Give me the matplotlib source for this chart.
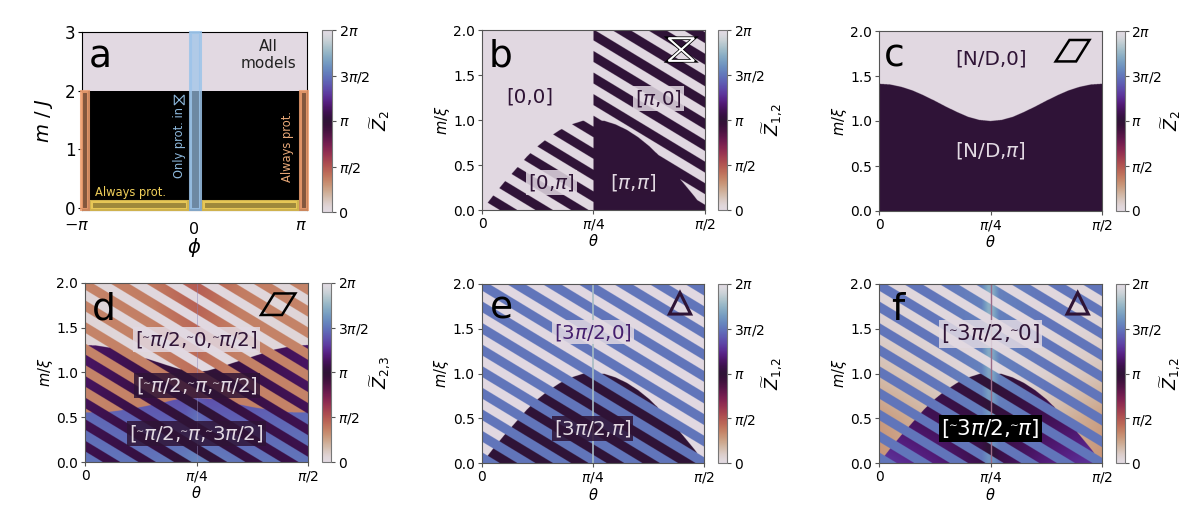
import numpy as np
import matplotlib
matplotlib.use('Agg')
import matplotlib.pyplot as plt
from matplotlib.patches import Rectangle, Polygon
from matplotlib.cm import ScalarMappable
from matplotlib.colors import Normalize

W, H = 1196, 515

# phase boundaries (theta as fraction of pi/2)
curve_x = [0, .05, .1, .15, .2, .25, .3, .35, .4, .45, .5, .55, .6, .65, .7, .75, .8, .85, .9, .95, 1]
dome_m = [0, .16, .31, .45, .59, .71, .81, .89, .95, .99, 1, .99, .95, .89, .81, .71, .59, .45, .31, .16, 0]
c_curve = [1.414, 1.406, 1.38, 1.34, 1.286, 1.225, 1.16, 1.10, 1.046, 1.012, 1.0,
           1.012, 1.046, 1.10, 1.16, 1.225, 1.286, 1.34, 1.38, 1.406, 1.414]
d_upper = [1.30, 1.295, 1.275, 1.25, 1.21, 1.17, 1.13, 1.09, 1.05, 1.015, 1.0,
           1.015, 1.05, 1.09, 1.13, 1.17, 1.21, 1.25, 1.275, 1.295, 1.30]
d_lower = [.55, .55, .555, .57, .59, .61, .635, .66, .69, .705, .71,
           .705, .69, .66, .635, .61, .59, .57, .555, .55, .55]

# stripes: lower intercept of each band at theta=0, in m/xi
stripe_slope = 1.5
stripe_width = .118
stripe_bands = [-.602, -.362, -.122, .118, .358, .598, .838, 1.078, 1.318, 1.558, 1.798, 2.038,
                2.278, 2.518, 2.758, 2.998, 3.238, 3.478]

# field values in units of pi on a coarse grid
rows_m = [0, .5, 1, 1.5, 2]
cols_d = [0, .3, .45, .5, .55, .7, 1]
d_orange = [[.35, .36, .38, .38, .38, .36, .35],
            [.35, .36, .38, .38, .38, .36, .35],
            [.35, .36, .40, .42, .40, .36, .35],
            [.35, .36, .42, .44, .42, .36, .35],
            [.35, .38, .46, .48, .46, .38, .35]]
d_blue = [[1.50, 1.50, 1.53, 1.56, 1.53, 1.50, 1.50],
          [1.46, 1.42, 1.42, 1.48, 1.42, 1.42, 1.46],
          [1.40, 1.34, 1.30, 1.32, 1.30, 1.34, 1.40],
          [1.40, 1.34, 1.30, 1.32, 1.30, 1.34, 1.40],
          [1.40, 1.34, 1.30, 1.32, 1.30, 1.34, 1.40]]
d_light = [[.05, .03, .02, .02, .02, .03, .05],
           [.05, .03, .02, .02, .02, .03, .05],
           [.05, .03, .01, .01, .01, .03, .05],
           [.06, .03, .01, .01, .01, .03, .06],
           [.05, .03, .02, .02, .02, .03, .05]]
d_dark = [[1.08, 1.04, 1.0, 1.0, 1.0, 1.04, 1.08],
          [1.10, 1.05, 1.0, 1.0, 1.0, 1.05, 1.10],
          [1.14, 1.06, 1.0, 1.0, 1.0, 1.06, 1.14],
          [1.14, 1.08, 1.0, 1.0, 1.0, 1.08, 1.14],
          [1.14, 1.08, 1.0, 1.0, 1.0, 1.08, 1.14]]
cols_f = [0, .25, .46, .49, .51, .54, .75, 1]
f_blue = [[1.50, 1.50, 1.50, 1.60, 1.60, 1.50, 1.50, 1.50],
          [1.50, 1.50, 1.52, 1.62, 1.62, 1.52, 1.50, 1.50],
          [1.50, 1.50, 1.54, 1.68, 1.68, 1.54, 1.50, 1.50],
          [1.50, 1.50, 1.54, 1.72, 1.72, 1.54, 1.50, 1.50],
          [1.50, 1.50, 1.54, 1.72, 1.72, 1.54, 1.50, 1.50]]
f_light = [[.30, .22, .12, .02, .02, .12, .22, .30],
           [.28, .18, .08, .02, .02, .08, .16, .26],
           [.16, .09, .03, .01, .01, .03, .08, .14],
           [.08, .04, .02, .01, .01, .02, .04, .06],
           [.04, .02, .01, .01, .01, .01, .02, .03]]
f_dark = [[1.30, 1.20, 1.08, 1.0, 1.0, 1.08, 1.20, 1.30],
          [1.16, 1.10, 1.04, 1.0, 1.0, 1.04, 1.10, 1.16],
          [1.10, 1.05, 1.0, 1.0, 1.0, 1.0, 1.05, 1.10],
          [1.10, 1.05, 1.0, 1.0, 1.0, 1.0, 1.05, 1.10],
          [1.10, 1.05, 1.0, 1.0, 1.0, 1.0, 1.05, 1.10]]

cbar_ticks = [0, np.pi/2, np.pi, 3*np.pi/2, 2*np.pi]
cbar_ticklabels = ['0', r'$\pi/2$', r'$\pi$', r'$3\pi/2$', r'$2\pi$']
theta_ticks = [0, np.pi/4, np.pi/2]
theta_ticklabels = ['0', r'$\pi/4$', r'$\pi/2$']

cmap = plt.get_cmap('twilight_r')
norm = Normalize(0, 2*np.pi)
GREY = '#555555'
DARK = '#2f1436'
LIGHT = '#e2d9e2'
PURPLE = '#451f6e'
TILDE = r'$\!^{_{\sim}}\!$'

fig = plt.figure(figsize=(W/100, H/100), dpi=100)


def px_axes(x0, x1, y0, y1):
    return fig.add_axes([x0/W, 1-y1/H, (x1-x0)/W, (y1-y0)/H])


def colorbar(box, label, label_x, size=10):
    cax = px_axes(*box)
    cb = fig.colorbar(ScalarMappable(norm=norm, cmap=cmap), cax=cax)
    cb.set_ticks(cbar_ticks)
    cb.set_ticklabels(cbar_ticklabels)
    cax.tick_params(labelsize=size, length=3, width=.8, color=GREY, pad=2)
    cb.outline.set_edgecolor('#777777')
    cax.text(label_x, .5, label, rotation=90, ha='center', va='center', fontsize=12.5, transform=cax.transAxes)


frac = np.linspace(0, 1, 1100)
mass = np.linspace(0, 2, 900)
F, M = np.meshgrid(frac, mass)


def field(cols, table):
    along = np.array([np.interp(frac, cols, row) for row in table])
    out = np.array([np.interp(mass, rows_m, along[:, i]) for i in range(len(frac))]).T
    return out*np.pi


def band_mask():
    line = M + stripe_slope*F
    mask = np.zeros_like(M, dtype=bool)
    for c in stripe_bands:
        mask |= (line >= c) & (line < c+stripe_width)
    return mask


def theta_axes(ax, letter, lx, ly):
    ax.set_xlim(0, np.pi/2)
    ax.set_ylim(0, 2)
    ax.set_xticks(theta_ticks)
    ax.set_xticklabels(theta_ticklabels)
    ax.set_yticks([0, .5, 1, 1.5, 2])
    ax.set_yticklabels(['0.0', '0.5', '1.0', '1.5', '2.0'])
    ax.tick_params(labelsize=10, length=3, width=.8, color=GREY, pad=2)
    ax.set_xlabel(r'$\theta$', fontsize=10.5, labelpad=1)
    ax.set_ylabel(r'$m/\xi$', fontsize=10.5, labelpad=1)
    for s in ax.spines.values():
        s.set_edgecolor(GREY)
    ax.text(lx, ly, letter, fontsize=27, color='k', transform=ax.transAxes, ha='left', va='baseline')


def show(ax, values):
    ax.imshow(values, origin='lower', extent=(0, np.pi/2, 0, 2), aspect='auto', cmap=cmap, norm=norm,
              interpolation='antialiased', interpolation_stage='rgba')


def label(ax, x, y, s, color, bg, alpha=.85, size=14.3):
    ax.text(x, y, s, color=color, fontsize=size, ha='center', va='center', transform=ax.transAxes,
            bbox=dict(facecolor=bg, edgecolor='none', alpha=alpha, pad=1.5))


# a
ax = px_axes(82.3, 306.7, 31.7, 210)
ax.set_xlim(-np.pi, np.pi)
ax.set_ylim(-.03, 3)
ax.set_facecolor('k')
ax.axhspan(2, 3, color=cmap(0.0), lw=0)
ax.set_xticks([])
ax.set_yticks([0, 1, 2, 3])
ax.tick_params(labelsize=12, length=3, width=.8, pad=2)
ax.set_ylabel('$m$ / $J$', fontsize=14, labelpad=7)
ax.text(.03, .80, 'a', fontsize=27, transform=ax.transAxes)
ax.text(.828, .87, 'All\nmodels', fontsize=11, ha='center', va='center', color='#222222',
        transform=ax.transAxes, linespacing=1.15)
ax.text(.432, .376, 'Only prot. in', fontsize=8.3, color='#8db8dc', rotation=90, ha='center', va='center',
        transform=ax.transAxes)
# the glyph is in none of the installed fonts
gx, gy, gdx, gdy = .432, .617, .022, .028
ax.add_patch(Polygon([(gx-gdx, gy+gdy), (gx-gdx, gy-gdy), (gx+gdx, gy+gdy), (gx+gdx, gy-gdy)], closed=True,
                     fill=False, ec='#8db8dc', lw=.8, transform=ax.transAxes))
ax.text(.9135, .355, 'Always prot.', fontsize=8.3, color='#e8a878', rotation=90, ha='center', va='center',
        transform=ax.transAxes)
ax.text(.217, .097, 'Always prot.', fontsize=8.3, color='#f0cf5a', ha='center', va='center', transform=ax.transAxes)
for x0, x1, y0, y1, col, fa in [(-3.17, -2.99, -.01, 1.99, '#f0a070', .55), (2.96, 3.16, -.01, 1.99, '#f0a070', .55),
                                (-.115, .145, -.01, 2.99, '#9cc4ea', .7),
                                (-2.89, -.22, -.01, .13, '#f5d35c', .65), (.23, 2.86, -.01, .13, '#f5d35c', .65)]:
    ax.add_patch(Rectangle((x0, y0), x1-x0, y1-y0, facecolor=col, edgecolor='none', alpha=fa, clip_on=False, zorder=3))
    ax.add_patch(Rectangle((x0, y0), x1-x0, y1-y0, facecolor='none', edgecolor=col, lw=2.2, alpha=.85, clip_on=False, zorder=3))
ax.text(-3.29, -.29, r'$-\pi$', fontsize=11.5, ha='center', va='center', clip_on=False)
ax.text(-.01, -.36, '0', fontsize=11.5, ha='center', va='center', clip_on=False)
ax.text(2.98, -.29, r'$\pi$', fontsize=11.5, ha='center', va='center', clip_on=False)
ax.text(-.01, -.67, r'$\phi$', fontsize=14, ha='center', va='center', clip_on=False)
colorbar((322, 332, 30, 212), r'$\widetilde{Z}_{2}$', 5.8, 10.3)

# b
ax = px_axes(482.3, 704.5, 30.3, 210)
theta_axes(ax, 'b', .03, .80)
dome = np.interp(F, curve_x, dome_m)
below = M < dome
stripes = band_mask()
s1 = np.where(F < .5, 0.0, np.pi)
s2 = np.where(below, np.pi, 0.0)
show(ax, np.where(stripes, s2, s1))
label(ax, .215, .63, r'[0,0]', DARK, LIGHT, 0)
label(ax, .312, .154, r'[0,$\pi$]', DARK, LIGHT)
label(ax, .677, .154, r'[$\pi$,$\pi$]', LIGHT, DARK)
label(ax, .793, .622, r'[$\pi$,0]', DARK, LIGHT)
glass = [(.838, .956), (.953, .956), (.838, .83), (.953, .83)]
ax.add_patch(Polygon(glass, closed=True, fill=False, ec='k', lw=2.6, transform=ax.transAxes))
ax.add_patch(Polygon(glass, closed=True, fill=False, ec='w', lw=1.5, transform=ax.transAxes))
colorbar((718, 727, 30, 210), r'$\widetilde{Z}_{1{,}2}$', 6.1)

# c
ax = px_axes(879.3, 1101.7, 31, 211)
theta_axes(ax, 'c', .0225, .805)
show(ax, np.where(M > np.interp(F, curve_x, c_curve), 0.0, np.pi))
label(ax, .502, .846, '[N/D,0]', DARK, LIGHT, 0)
label(ax, .502, .338, r'[N/D,$\pi$]', LIGHT, DARK, 0)
ax.add_patch(Polygon([(.793, .831), (.885, .831), (.945, .95), (.855, .95)], fill=False, ec='k', lw=1.8, transform=ax.transAxes))
colorbar((1115.7, 1124.5, 31, 211), r'$\widetilde{Z}_{2}$', 6.3)

# d
ax = px_axes(85.3, 308, 282.7, 462)
theta_axes(ax, 'd', .028, .796)
upper = np.interp(F, curve_x, d_upper)
lower = np.interp(F, curve_x, d_lower)
s1 = np.where(M > lower, field(cols_d, d_orange), field(cols_d, d_blue))
s2 = np.where(M > upper, field(cols_d, d_light), field(cols_d, d_dark))
show(ax, np.where(stripes, s2, s1))
ax.axvline(np.pi/4, color='#8f86b8', lw=.7, alpha=.5)
label(ax, .5, .685, '['+TILDE+r'$\pi$/2,'+TILDE+'0,'+TILDE+r'$\pi$/2]', DARK, LIGHT)
label(ax, .5, .425, '['+TILDE+r'$\pi$/2,'+TILDE+r'$\pi$,'+TILDE+r'$\pi$/2]', LIGHT, DARK)
label(ax, .5, .161, '['+TILDE+r'$\pi$/2,'+TILDE+r'$\pi$,'+TILDE+r'3$\pi$/2]', LIGHT, DARK)
ax.add_patch(Polygon([(.789, .82), (.883, .82), (.943, .94), (.849, .94)], fill=False, ec='k', lw=1.8, transform=ax.transAxes))
colorbar((321.7, 331, 282.7, 462), r'$\widetilde{Z}_{2{,}3}$', 6.4)

# e
ax = px_axes(481.7, 704, 283.7, 463.3)
theta_axes(ax, 'e', .0375, .807)
s1 = np.full(M.shape, 1.5*np.pi)
s2 = np.where(below, np.pi, 0.0)
show(ax, np.where(stripes, s2, s1))
ax.axvline(np.pi/4, color='#a7bcc4', lw=1.2)
label(ax, .5, .731, r'[3$\pi$/2,0]', PURPLE, LIGHT)
label(ax, .5, .195, r'[3$\pi$/2,$\pi$]', LIGHT, DARK)
tri = [(.844, .831), (.94, .831), (.892, .95)]
ax.add_patch(Polygon(tri, fill=False, ec=DARK, lw=2.2, transform=ax.transAxes))
colorbar((718, 727, 283.7, 463.3), r'$\widetilde{Z}_{1{,}2}$', 6.1)

# f
ax = px_axes(879.3, 1101.7, 283.7, 463.3)
theta_axes(ax, 'f', .055, .797)
s1 = field(cols_f, f_blue)
s2 = np.where(below, field(cols_f, f_dark), field(cols_f, f_light))
show(ax, np.where(stripes, s2, s1))
ax.axvline(np.pi/4, color='#9a6a88', lw=1)
label(ax, .5, .72, '['+TILDE+r'3$\pi$/2,'+TILDE+'0]', DARK, LIGHT, size=15.5)
label(ax, .5, .192, '['+TILDE+r'3$\pi$/2,'+TILDE+r'$\pi$]', 'w', 'k', 1, size=15.5)
ax.add_patch(Polygon(tri, fill=False, ec=DARK, lw=2.2, transform=ax.transAxes))
colorbar((1115.7, 1124.5, 283.7, 463.3), r'$\widetilde{Z}_{1{,}2}$', 6.3)

fig.savefig('out.png', dpi=100)
